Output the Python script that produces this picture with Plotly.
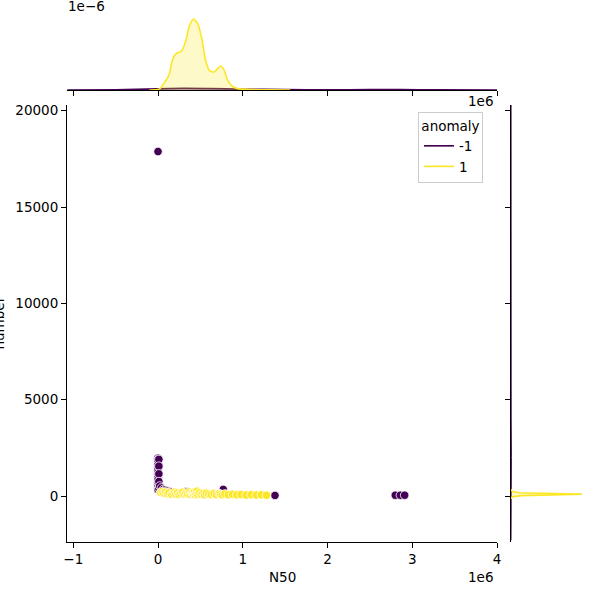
import plotly.graph_objects as go

# ---------------- data ----------------
# scatter, anomaly = -1 (N50 in millions, number)
neg_n50_m = [0.0, 0.0, 0.0, 0.0, 0.0, 0.0, 0.0, 0.0, 0.0, 0.0, 0.0, 0.0, 0.0, 0.0, 0.0,
             0.01, 0.01, 0.01, 0.01, 0.01, 0.02, 0.04, 0.06, 0.08, 0.11, 0.14,
             0.33, 0.77, 1.38, 2.80, 2.86, 2.91]
neg_number = [17880, 1960, 1880, 1760, 1620, 1480, 1350, 1220, 1100, 960, 830, 700, 580, 470, 330,
              1900, 1550, 1150, 750, 400, 520, 420, 340, 300, 260, 220,
              220, 340, 30, 40, 40, 40]

# scatter, anomaly = 1
pos_n50_m = [0.03, 0.05, 0.07, 0.09, 0.11, 0.13, 0.16, 0.18, 0.20, 0.21, 0.23, 0.25, 0.27, 0.29,
             0.31, 0.33, 0.35, 0.37, 0.38, 0.40, 0.41, 0.42, 0.43, 0.44, 0.45, 0.46, 0.47, 0.49,
             0.51, 0.53, 0.55, 0.57, 0.60, 0.63, 0.66, 0.69, 0.72, 0.74, 0.76, 0.79, 0.83, 0.88,
             0.93, 0.98, 1.04, 1.10, 1.16, 1.22, 1.28]
pos_number = [180, 220, 150, 200, 120, 170, 90, 150, 200, 110, 160, 80, 140, 190,
              100, 150, 120, 210, 90, 160, 130, 100, 190, 70, 140, 250, 110, 170,
              90, 130, 60, 150, 100, 80, 130, 70, 120, 90, 60, 110, 70, 90,
              60, 80, 50, 70, 50, 60, 40]

# marginal KDE over N50 (x in millions, density in 1e-6)
kde_x_pos_m = [-0.10, 0.02, 0.08, 0.13, 0.17, 0.21, 0.28, 0.33, 0.37, 0.42, 0.47, 0.52, 0.56,
               0.61, 0.66, 0.71, 0.74, 0.78, 0.82, 0.87, 0.94, 1.08, 1.32, 1.56]
kde_d_pos = [0.0, 0.04, 0.29, 0.55, 1.10, 1.32, 1.43, 1.83, 2.34, 2.60, 2.42, 1.83, 1.10,
             0.70, 0.66, 0.81, 0.88, 0.73, 0.37, 0.15, 0.05, 0.02, 0.005, 0.0]
kde_x_neg_m = [-1.07, -0.5, 0.0, 0.3, 0.6, 1.0, 1.5, 2.0, 2.5, 2.85, 3.3, 4.0]
kde_d_neg = [0.0, 0.01, 0.04, 0.06, 0.05, 0.03, 0.015, 0.008, 0.012, 0.015, 0.006, 0.0]

# marginal KDE over number (relative density)
kdey_num_pos = [-150, -40, 20, 60, 95, 130, 170, 230, 350]
kdey_d_pos = [0.0, 0.02, 0.15, 0.7, 1.0, 0.6, 0.12, 0.02, 0.0]
kdey_num_neg = [-2300, 0, 1000, 2000, 4000, 8000, 12000, 16000, 17900, 20300]
kdey_d_neg = [0.0, 0.006, 0.008, 0.006, 0.003, 0.001, 0.001, 0.002, 0.003, 0.001]

x_ticks_m = [-1, 0, 1, 2, 3, 4]
x_tick_text = ["\u22121", "0", "1", "2", "3", "4"]
y_ticks = [0, 5000, 10000, 15000, 20000]
y_tick_text = ["0", "5000", "10000", "15000", "20000"]

PURPLE = "#440154"
YELLOW = "#fde725"
FONT = "DejaVu Sans"
FS = 13.5

M = 1e6
neg_n50 = [v * M for v in neg_n50_m]
pos_n50 = [v * M for v in pos_n50_m]
kde_x_pos = [v * M for v in kde_x_pos_m]
kde_x_neg = [v * M for v in kde_x_neg_m]

fig = go.Figure()

# main scatter
fig.add_trace(go.Scatter(x=neg_n50, y=neg_number, mode="markers", showlegend=False,
                         marker=dict(color=PURPLE, size=8.5, line=dict(color="white", width=0.8)),
                         xaxis="x", yaxis="y"))
fig.add_trace(go.Scatter(x=pos_n50, y=pos_number, mode="markers", showlegend=False,
                         marker=dict(color=YELLOW, size=8.5, line=dict(color="white", width=0.8)),
                         xaxis="x", yaxis="y"))

# top marginal fills + lines
for xs, ds, col, fillc, name in [(kde_x_neg, kde_d_neg, PURPLE, "rgba(68,1,84,0.25)", "-1"),
                                 (kde_x_pos, kde_d_pos, YELLOW, "rgba(253,231,37,0.25)", "1")]:
    fig.add_trace(go.Scatter(x=xs, y=ds, mode="lines", fill="tozeroy", fillcolor=fillc,
                             line=dict(width=0, shape="spline", smoothing=0.6),
                             showlegend=False, hoverinfo="skip", xaxis="x2", yaxis="y2"))
    fig.add_trace(go.Scatter(x=xs, y=ds, mode="lines", name=name,
                             line=dict(color=col, width=1.6, shape="spline", smoothing=0.6),
                             showlegend=True, xaxis="x2", yaxis="y2"))

# right marginal fills + lines
for ys, ds, col, fillc, lw in [(kdey_num_neg, kdey_d_neg, PURPLE, "rgba(68,1,84,0.25)", 1.0),
                               (kdey_num_pos, kdey_d_pos, YELLOW, "rgba(253,231,37,0.25)", 1.6)]:
    fig.add_trace(go.Scatter(x=ds, y=ys, mode="lines", fill="tozerox", fillcolor=fillc,
                             line=dict(width=0), showlegend=False, hoverinfo="skip",
                             xaxis="x3", yaxis="y3"))
    fig.add_trace(go.Scatter(x=ds, y=ys, mode="lines", line=dict(color=col, width=lw),
                             showlegend=False, xaxis="x3", yaxis="y3"))

W = 600.0
xdom = [67 / W, 497 / W]
ydom = [1 - 542 / W, 1 - 105 / W]
xrange_main = [-1.074e6, 4.0e6]
yrange_main = [-2388, 20296]

axis_common = dict(showgrid=False, zeroline=False, showline=True, linecolor="black", linewidth=1,
                   ticks="outside", ticklen=5, tickwidth=1, tickcolor="black", automargin=False,
                   tickfont=dict(family=FONT, size=FS, color="black"))

fig.update_layout(
    template="none",
    width=600, height=600, margin=dict(l=0, r=0, t=0, b=0, pad=0),
    paper_bgcolor="white", plot_bgcolor="white",
    font=dict(family=FONT, size=FS, color="black"),
    xaxis=dict(domain=xdom, range=xrange_main, anchor="y",
               tickvals=[v * M for v in x_ticks_m], ticktext=x_tick_text, **axis_common),
    yaxis=dict(domain=ydom, range=yrange_main, anchor="x",
               tickvals=y_ticks, ticktext=y_tick_text, **axis_common),
    xaxis2=dict(domain=xdom, range=xrange_main, anchor="y2", showticklabels=False,
                tickvals=[v * M for v in x_ticks_m], **axis_common),
    yaxis2=dict(domain=[1 - 90 / W, 1 - 15 / W], range=[0, 2.6 * 75 / 71], anchor="x2",
                visible=False, automargin=False),
    xaxis3=dict(domain=[511 / W, 586 / W], range=[0, 1.0 / 0.947], anchor="y3", visible=False,
                automargin=False),
    yaxis3=dict(domain=ydom, range=yrange_main, anchor="x3", showticklabels=False,
                tickvals=y_ticks, **axis_common),
    legend=dict(x=418 / W, y=1 - 112 / W, xanchor="left", yanchor="top",
                bgcolor="rgba(255,255,255,0.8)", bordercolor="#cccccc", borderwidth=1,
                title=dict(text="anomaly", side="top center", font=dict(family=FONT, size=FS)),
                font=dict(family=FONT, size=FS), itemwidth=30, tracegroupgap=0),
    annotations=[
        dict(text="N50", x=282 / W, y=1 - 577 / W, xref="paper", yref="paper",
             xanchor="center", yanchor="middle", showarrow=False),
        dict(text="number", textangle=-90, x=8 / W, y=1 - 323.5 / W, xref="paper", yref="paper",
             xanchor="right", yanchor="middle", showarrow=False),
        dict(text="1e6", x=495 / W, y=1 - 577 / W, xref="paper", yref="paper",
             xanchor="right", yanchor="middle", showarrow=False),
        dict(text="1e6", x=495 / W, y=1 - 101 / W, xref="paper", yref="paper",
             xanchor="right", yanchor="middle", showarrow=False),
        dict(text="1e\u22126", x=66 / W, y=1 - 6 / W, xref="paper", yref="paper",
             xanchor="left", yanchor="middle", showarrow=False),
    ],
)

fig.write_html("out.html", config={"displayModeBar": False},
               post_script="document.body.style.margin='0';document.body.style.overflow='hidden';")
